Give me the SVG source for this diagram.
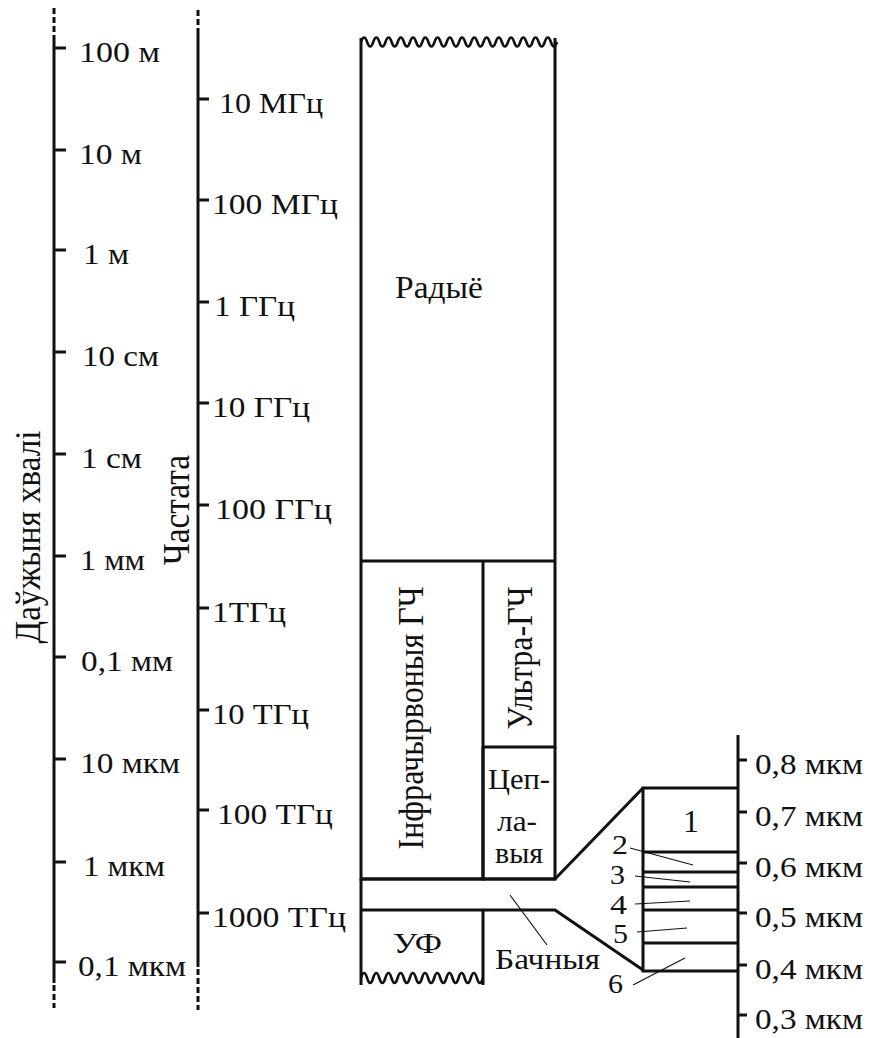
<svg xmlns="http://www.w3.org/2000/svg" width="870" height="1038" viewBox="0 0 870 1038">
<style>
text{font-family:"Liberation Serif","Times New Roman",serif;fill:#111;}
.lb{font-size:30px;}
.sm{font-size:28px;}
.ax{stroke:#111;stroke-width:3;fill:none;}
.dash{stroke:#111;stroke-width:3;fill:none;stroke-dasharray:6 3;}
.tk{stroke:#111;stroke-width:3;}
.ln{stroke:#111;stroke-width:3;fill:none;stroke-linejoin:miter;}
.wv{stroke:#111;stroke-width:2.6;fill:none;}
.ld{stroke:#111;stroke-width:1.2;fill:none;}
</style>
<rect width="870" height="1038" fill="#fff"/>

<g id="wavelength-axis">
<line class="dash" x1="54" y1="8" x2="54" y2="35"/>
<line class="ax" x1="54" y1="35" x2="54" y2="983"/>
<line class="dash" x1="54" y1="985" x2="54" y2="1008"/>
<g class="tk">
<line x1="54" y1="48" x2="66" y2="48"/>
<line x1="54" y1="150" x2="66" y2="150"/>
<line x1="54" y1="250" x2="66" y2="250"/>
<line x1="54" y1="352" x2="66" y2="352"/>
<line x1="54" y1="454" x2="66" y2="454"/>
<line x1="54" y1="556" x2="66" y2="556"/>
<line x1="54" y1="657" x2="66" y2="657"/>
<line x1="54" y1="759" x2="66" y2="759"/>
<line x1="54" y1="862" x2="66" y2="862"/>
<line x1="54" y1="962" x2="66" y2="962"/>
</g>
<g class="lb">
<text x="79" y="62" textLength="81" lengthAdjust="spacingAndGlyphs">100 м</text>
<text x="79" y="164" textLength="63" lengthAdjust="spacingAndGlyphs">10 м</text>
<text x="83" y="264" textLength="46" lengthAdjust="spacingAndGlyphs">1 м</text>
<text x="82" y="366" textLength="77" lengthAdjust="spacingAndGlyphs">10 см</text>
<text x="81" y="468" textLength="61" lengthAdjust="spacingAndGlyphs">1 см</text>
<text x="80" y="570" textLength="65" lengthAdjust="spacingAndGlyphs">1 мм</text>
<text x="81" y="671" textLength="92" lengthAdjust="spacingAndGlyphs">0,1 мм</text>
<text x="80" y="773" textLength="100" lengthAdjust="spacingAndGlyphs">10 мкм</text>
<text x="83" y="876" textLength="82" lengthAdjust="spacingAndGlyphs">1 мкм</text>
<text x="78" y="976" textLength="108" lengthAdjust="spacingAndGlyphs">0,1 мкм</text>
</g>
<text transform="translate(40,537) scale(1.3,1) rotate(-90)" style="font-size:28px" text-anchor="middle" textLength="213" lengthAdjust="spacingAndGlyphs">Даўжыня хвалі</text>
</g>

<g id="frequency-axis">
<line class="dash" x1="198" y1="10" x2="198" y2="33"/>
<line class="ax" x1="198" y1="33" x2="198" y2="967"/>
<line class="dash" x1="198" y1="969" x2="198" y2="1010"/>
<g class="tk">
<line x1="198" y1="99" x2="209" y2="99"/>
<line x1="198" y1="200" x2="209" y2="200"/>
<line x1="198" y1="302" x2="209" y2="302"/>
<line x1="198" y1="403" x2="209" y2="403"/>
<line x1="198" y1="505" x2="209" y2="505"/>
<line x1="198" y1="608" x2="209" y2="608"/>
<line x1="198" y1="710" x2="209" y2="710"/>
<line x1="198" y1="810" x2="209" y2="810"/>
<line x1="198" y1="913" x2="209" y2="913"/>
</g>
<g class="lb">
<text x="219" y="113" textLength="104" lengthAdjust="spacingAndGlyphs">10 МГц</text>
<text x="212" y="214" textLength="126" lengthAdjust="spacingAndGlyphs">100 МГц</text>
<text x="214" y="316" textLength="81" lengthAdjust="spacingAndGlyphs">1 ГГц</text>
<text x="212" y="417" textLength="98" lengthAdjust="spacingAndGlyphs">10 ГГц</text>
<text x="215" y="519" textLength="117" lengthAdjust="spacingAndGlyphs">100 ГГц</text>
<text x="212" y="622" textLength="74" lengthAdjust="spacingAndGlyphs">1ТГц</text>
<text x="212" y="724" textLength="97" lengthAdjust="spacingAndGlyphs">10 ТГц</text>
<text x="217" y="824" textLength="116" lengthAdjust="spacingAndGlyphs">100 ТГц</text>
<text x="212" y="927" textLength="134" lengthAdjust="spacingAndGlyphs">1000 ТГц</text>
</g>
<text transform="translate(189,510) scale(1.3,1) rotate(-90)" style="font-size:29px" text-anchor="middle" textLength="110" lengthAdjust="spacingAndGlyphs">Частата</text>
</g>

<g id="radio">
<path class="wv" d="M361,42 q3.06,-9 6.125,0 t6.125,0 t6.125,0 t6.125,0 t6.125,0 t6.125,0 t6.125,0 t6.125,0 t6.125,0 t6.125,0 t6.125,0 t6.125,0 t6.125,0 t6.125,0 t6.125,0 t6.125,0 t6.125,0 t6.125,0 t6.125,0 t6.125,0 t6.125,0 t6.125,0 t6.125,0 t6.125,0 t6.125,0 t6.125,0 t6.125,0 t6.125,0 t6.125,0 t6.125,0 t6.125,0 t6.125,0"/>
<path class="ln" d="M361,38 V561 M555,38 V561 M361,561 H555"/>
<text x="395" y="298" style="font-size:31px" textLength="88" lengthAdjust="spacingAndGlyphs">Радыё</text>
</g>

<g id="infrared">
<path class="ln" d="M361,561 V879 H483 V561"/>
<text transform="translate(423,718) scale(1.3,1) rotate(-90)" style="font-size:28px" text-anchor="middle" textLength="263" lengthAdjust="spacingAndGlyphs">Інфрачырвоныя ГЧ</text>
</g>

<g id="ultra-ir">
<path class="ln" d="M483,747 H555 V561"/>
<text transform="translate(532,658) scale(1.3,1) rotate(-90)" style="font-size:28px" text-anchor="middle" textLength="143" lengthAdjust="spacingAndGlyphs">Ультра-ГЧ</text>
</g>

<g id="thermal">
<path class="ln" d="M483,747 V879 H555 V747"/>
<text class="lb" x="488" y="789" textLength="62" lengthAdjust="spacingAndGlyphs">Цеп-</text>
<text class="lb" x="497" y="831" textLength="40" lengthAdjust="spacingAndGlyphs">ла-</text>
<text class="lb" x="495" y="863" textLength="48" lengthAdjust="spacingAndGlyphs">выя</text>
</g>

<g id="visible-band">
<path class="ln" d="M361,879 H555 L643,788"/>
<path class="ln" d="M361,910 H555 L643,970"/>
<text class="lb" x="495" y="969" textLength="105" lengthAdjust="spacingAndGlyphs">Бачныя</text>
</g>

<g id="uv">
<path class="ln" d="M361,879 V985 M483,910 V985"/>
<path class="wv" d="M361,978 q3.05,-10 6.1,0 t6.1,0 t6.1,0 t6.1,0 t6.1,0 t6.1,0 t6.1,0 t6.1,0 t6.1,0 t6.1,0 t6.1,0 t6.1,0 t6.1,0 t6.1,0 t6.1,0 t6.1,0 t6.1,0 t6.1,0 t6.1,0 t6.1,0"/>
<text class="lb" x="393" y="953" textLength="49" lengthAdjust="spacingAndGlyphs">УФ</text>
</g>

<g id="visible-spectrum">
<path class="ln" d="M738,788 H643 V971 H738"/>
<path class="ln" d="M643,852 H738 M643,872 H738 M643,887 H738 M643,910 H738 M643,943 H738"/>
<text x="683" y="832" style="font-size:31px" textLength="16" lengthAdjust="spacingAndGlyphs">1</text>
<text class="sm" x="612" y="854" textLength="16" lengthAdjust="spacingAndGlyphs">2</text>
<text class="sm" x="610" y="884" textLength="15" lengthAdjust="spacingAndGlyphs">3</text>
<text class="sm" x="610" y="914" textLength="17" lengthAdjust="spacingAndGlyphs">4</text>
<text class="sm" x="613" y="943" textLength="15" lengthAdjust="spacingAndGlyphs">5</text>
<text class="sm" x="608" y="993" textLength="15" lengthAdjust="spacingAndGlyphs">6</text>
</g>

<g id="micron-axis">
<line class="ax" x1="738" y1="735" x2="738" y2="1038"/>
<g class="tk">
<line x1="738" y1="760" x2="747" y2="760"/>
<line x1="738" y1="812" x2="747" y2="812"/>
<line x1="738" y1="863" x2="747" y2="863"/>
<line x1="738" y1="913" x2="747" y2="913"/>
<line x1="738" y1="965" x2="747" y2="965"/>
<line x1="738" y1="1015" x2="747" y2="1015"/>
</g>
<g class="lb">
<text x="755" y="774" textLength="108" lengthAdjust="spacingAndGlyphs">0,8 мкм</text>
<text x="755" y="826" textLength="108" lengthAdjust="spacingAndGlyphs">0,7 мкм</text>
<text x="755" y="877" textLength="108" lengthAdjust="spacingAndGlyphs">0,6 мкм</text>
<text x="755" y="927" textLength="108" lengthAdjust="spacingAndGlyphs">0,5 мкм</text>
<text x="755" y="979" textLength="108" lengthAdjust="spacingAndGlyphs">0,4 мкм</text>
<text x="755" y="1029" textLength="108" lengthAdjust="spacingAndGlyphs">0,3 мкм</text>
</g>
</g>

<g id="connectors">
<line class="ld" x1="510" y1="895" x2="547" y2="945"/>
<line class="ld" x1="630" y1="848" x2="693" y2="865"/>
<line class="ld" x1="635" y1="876" x2="690" y2="882"/>
<line class="ld" x1="635" y1="904" x2="690" y2="901"/>
<line class="ld" x1="637" y1="932" x2="687" y2="928"/>
<line class="ld" x1="633" y1="985" x2="685" y2="958"/>
</g>
</svg>
